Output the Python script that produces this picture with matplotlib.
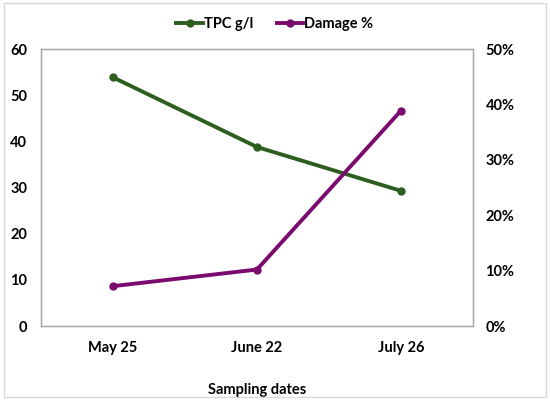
import matplotlib
matplotlib.use("Agg")
import matplotlib.pyplot as plt
from matplotlib.ticker import FuncFormatter
from matplotlib.patches import Rectangle

categories = ["May 25", "June 22", "July 26"]
tpc = [53.9, 38.8, 29.3]
damage = [0.072, 0.102, 0.389]

plt.rcParams['font.family'] = ['Lato', 'DejaVu Sans']
plt.rcParams['font.weight'] = 'bold'

green = '#2e5e1f'
purple = '#7a0a6e'
fs = 10.5

fig = plt.figure(figsize=(5.5, 4), dpi=100)
ax = fig.add_axes([0.0745, 0.185, 0.7855, 0.692])
ax2 = ax.twinx()

x = list(range(len(categories)))
l1, = ax.plot(x, tpc, color=green, lw=2.8, marker='o', ms=5, label='TPC g/l')
l2, = ax2.plot(x, damage, color=purple, lw=2.8, marker='o', ms=5, label='Damage %')

ax.set_xlim(-0.5, 2.5)
ax.set_ylim(0, 60)
ax.set_yticks(range(0, 61, 10))
ax2.set_ylim(0, 0.5)
ax2.set_yticks([0, 0.1, 0.2, 0.3, 0.4, 0.5])
ax2.yaxis.set_major_formatter(FuncFormatter(lambda v, p: f"{v*100:.0f}%"))
ax.set_xticks(x)
ax.set_xticklabels(categories)

for a in (ax, ax2):
    for s in a.spines.values():
        s.set_color('#a6a6a6')
        s.set_linewidth(0.9)
    a.tick_params(length=0, labelsize=fs, colors='#000000')
ax.tick_params(axis='y', pad=10)
ax2.tick_params(axis='y', pad=9)
ax.tick_params(axis='x', pad=11)
ax.set_xlabel('Sampling dates', fontsize=fs, fontweight='bold', labelpad=20)

fig.legend(handles=[l1, l2], loc='center', bbox_to_anchor=(0.5, 0.94), ncol=2,
           frameon=False, fontsize=fs, handlelength=1.8, columnspacing=1.6,
           handletextpad=0.1)

fig.patches.append(Rectangle((0.007, 0.008), 0.986, 0.984, transform=fig.transFigure,
                             fill=False, edgecolor='#d9d9d9', linewidth=1.0))

fig.savefig('out.png', dpi=100)
